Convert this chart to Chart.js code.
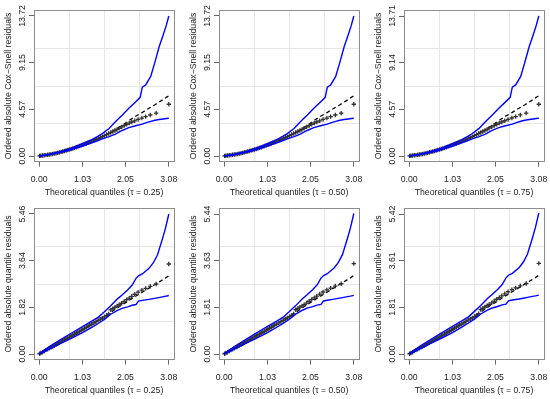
<!DOCTYPE html>
<html>
<head>
<meta charset="utf-8">
<script src="https://cdn.jsdelivr.net/npm/chart.js@4.4.1/dist/chart.umd.min.js"></script>
<style>
  html, body { margin: 0; padding: 0; background: #fff; }
  #wrap { position: relative; width: 550px; height: 399px; overflow: hidden; }
  #wrap canvas { position: absolute; }
</style>
</head>
<body>
<div id="wrap"></div>
<script>
// theoretical quantiles (same for all panels)
const theoX = [0.01, 0.04, 0.08, 0.12, 0.16, 0.2, 0.24, 0.28, 0.32, 0.36, 0.4, 0.44, 0.48, 0.52, 0.56, 0.6,
  0.64, 0.68, 0.72, 0.76, 0.8, 0.84, 0.88, 0.92, 0.96, 1.0, 1.04, 1.08, 1.12, 1.16, 1.2, 1.25, 1.3, 1.35,
  1.4, 1.45, 1.5, 1.55, 1.6, 1.65, 1.7, 1.75, 1.8, 1.85, 1.9, 1.96, 2.02, 2.08, 2.14, 2.2, 2.27, 2.35,
  2.44, 2.53, 2.64, 2.78, 3.08];

// ordered absolute Cox-Snell residuals
const csY = [0.01, 0.03, 0.05, 0.07, 0.09, 0.12, 0.14, 0.17, 0.2, 0.23, 0.27, 0.31, 0.36, 0.4, 0.44, 0.49,
  0.54, 0.59, 0.64, 0.69, 0.74, 0.8, 0.86, 0.92, 0.98, 1.04, 1.1, 1.17, 1.23, 1.3, 1.37, 1.46, 1.55, 1.63,
  1.72, 1.81, 1.9, 2.0, 2.1, 2.2, 2.3, 2.4, 2.5, 2.6, 2.72, 2.85, 2.98, 3.1, 3.22, 3.33, 3.45, 3.58,
  3.72, 3.86, 4.02, 4.2, 5.07];

// ordered absolute quantile residuals
const qY = [0.01, 0.04, 0.07, 0.11, 0.15, 0.18, 0.22, 0.26, 0.29, 0.33, 0.37, 0.4, 0.44, 0.48, 0.51, 0.55,
  0.59, 0.63, 0.66, 0.7, 0.74, 0.77, 0.81, 0.85, 0.88, 0.92, 0.96, 1.0, 1.04, 1.08, 1.12, 1.16, 1.21, 1.26,
  1.31, 1.36, 1.4, 1.45, 1.5, 1.56, 1.72, 1.77, 1.82, 1.87, 1.92, 1.98, 2.05, 2.12, 2.18, 2.25, 2.33, 2.41,
  2.49, 2.56, 2.64, 2.73, 3.51];

// simulated envelopes, Cox-Snell
const csEnvX = [0, 0.25, 0.5, 0.75, 1.03, 1.25, 1.4, 1.5, 1.66, 1.81, 1.97, 2.13, 2.29, 2.4, 2.45, 2.53, 2.65, 2.75, 2.85, 2.95, 3.02, 3.08];
const csUpper = [0, 0.17, 0.42, 0.75, 1.2, 1.6, 1.95, 2.2, 2.7, 3.36, 4.0, 4.67, 5.3, 5.75, 6.75, 6.96, 7.8, 9.2, 10.7, 11.9, 12.8, 13.72];
const csLower = [0, 0.13, 0.33, 0.6, 0.98, 1.3, 1.52, 1.67, 1.9, 2.15, 2.5, 2.78, 2.96, 3.07, 3.12, 3.25, 3.4, 3.5, 3.58, 3.63, 3.67, 3.7];
const csMedian = [0, 0.15, 0.38, 0.68, 1.08, 1.46, 1.72, 1.9, 2.22, 2.56, 2.98, 3.46, 3.9, 4.15, 4.27, 4.48, 4.78, 5.02, 5.28, 5.55, 5.75, 5.9];

// simulated envelopes, quantile
const qEnvX = [0, 0.25, 0.5, 0.75, 1.03, 1.25, 1.4, 1.55, 1.7, 1.86, 1.97, 2.1, 2.21, 2.3, 2.36, 2.45, 2.61, 2.71, 2.81, 2.93, 3.0, 3.08];
const qUpper = [0, 0.3, 0.55, 0.8, 1.07, 1.28, 1.43, 1.65, 1.88, 2.15, 2.3, 2.5, 2.69, 2.95, 3.05, 3.12, 3.34, 3.55, 3.86, 4.5, 4.9, 5.46];
const qLower = [0, 0.2, 0.4, 0.6, 0.83, 1.04, 1.19, 1.35, 1.55, 1.7, 1.78, 1.84, 1.9, 1.93, 2.06, 2.09, 2.13, 2.16, 2.19, 2.23, 2.25, 2.28];
const qMedian = [0, 0.23, 0.47, 0.7, 0.96, 1.17, 1.32, 1.46, 1.62, 1.8, 1.92, 2.05, 2.17, 2.26, 2.32, 2.41, 2.57, 2.67, 2.77, 2.89, 2.96, 3.05];

// axis ticks
const xTicks = [0, 1.03, 2.05, 3.08];
const csTicks = [[0, 4.57, 9.15, 13.72], [0, 4.57, 9.15, 13.72], [0, 4.57, 9.14, 13.71]];
const qTicks = [[0, 1.82, 3.64, 5.46], [0, 1.81, 3.63, 5.44], [0, 1.81, 3.61, 5.42]];
const taus = ['0.25', '0.50', '0.75'];

const FONT = { family: '"Liberation Sans", Arial, sans-serif', size: 8.7 };
const TXT = '#222';
const BOX = '#8c8c8c';
const TICKC = '#666';
const GRID = '#e6e6e6';
const BLUE = '#0000ff';

const pts = (xs, ys) => xs.map((x, i) => ({ x: x, y: ys[i] }));

// y tick labels drawn parallel to the axis, like R
const yLabels = {
  id: 'yLabels',
  afterDraw(chart) {
    const { ctx, chartArea } = chart;
    const y = chart.scales.y;
    ctx.save();
    ctx.fillStyle = TXT;
    ctx.font = FONT.size + 'px ' + FONT.family;
    ctx.textAlign = 'center';
    ctx.textBaseline = 'middle';
    y.ticks.forEach(t => {
      ctx.save();
      ctx.translate(chartArea.left - 11, y.getPixelForValue(t.value));
      ctx.rotate(-Math.PI / 2);
      ctx.fillText(t.value.toFixed(2), 0, 0);
      ctx.restore();
    });
    ctx.restore();
  }
};

function quarterGrid(s) {
  const step = (s.max - s.min) / 4;
  s.ticks = [1, 2, 3].map(k => ({ value: s.min + k * step }));
}

function makePanel(row, col) {
  const cv = document.createElement('canvas');
  cv.width = 180; cv.height = 200;
  cv.style.left = (col * 185) + 'px';
  cv.style.top = (row * 198) + 'px';
  document.getElementById('wrap').appendChild(cv);

  const yT = row === 0 ? csTicks[col] : qTicks[col];
  const yMax = yT[yT.length - 1];
  const xMax = xTicks[xTicks.length - 1];
  const envX = row === 0 ? csEnvX : qEnvX;
  const upper = row === 0 ? csUpper : qUpper;
  const lower = row === 0 ? csLower : qLower;
  const median = row === 0 ? csMedian : qMedian;
  const resY = row === 0 ? csY : qY;
  const yTitle = row === 0 ? 'Ordered absolute Cox\u2212Snell residuals' : 'Ordered absolute quantile residuals';

  new Chart(cv, {
    type: 'scatter',
    data: {
      datasets: [
        { data: pts(envX, upper), showLine: true, borderColor: BLUE, borderWidth: 1.4, pointRadius: 0, order: 0 },
        { data: pts(envX, lower), showLine: true, borderColor: BLUE, borderWidth: 1.4, pointRadius: 0, order: 0 },
        { data: pts(theoX, resY), pointStyle: 'cross', pointRadius: 2.2, borderWidth: 1.3, borderColor: '#333', order: 1 },
        { data: pts(envX, median), showLine: true, borderColor: '#000', borderWidth: 1.3, borderDash: [4, 3], pointRadius: 0, order: 2 }
      ]
    },
    options: {
      responsive: false,
      animation: false,
      devicePixelRatio: 1,
      layout: { padding: { top: 10.4, right: 6, left: 0, bottom: 0 } },
      plugins: { legend: { display: false }, tooltip: { enabled: false } },
      scales: {
        x: {
          type: 'linear', min: -0.04 * xMax, max: 1.04 * xMax,
          afterBuildTicks: s => { s.ticks = xTicks.map(v => ({ value: v })); },
          afterFit: s => { s.height = 38.4; s.paddingLeft = 0; s.paddingRight = 0; },
          ticks: { callback: v => v.toFixed(2), padding: 7.5, color: TXT, font: FONT, maxRotation: 0, autoSkip: false },
          grid: { drawOnChartArea: false, tickLength: 5, tickColor: TICKC },
          border: { display: true, color: BOX },
          title: { display: true, text: 'Theoretical quantiles (\u03c4 = ' + taus[col] + ')', color: TXT, font: FONT, padding: { top: 0, bottom: 2.5 } }
        },
        y: {
          type: 'linear', min: -0.04 * yMax, max: 1.04 * yMax,
          afterBuildTicks: s => { s.ticks = yT.map(v => ({ value: v })); },
          afterFit: s => { s.width = 34; s.paddingTop = 0; s.paddingBottom = 0; },
          ticks: { display: false },
          grid: { drawOnChartArea: false, tickLength: 5, tickColor: TICKC },
          border: { display: true, color: BOX },
          title: { display: true, text: yTitle, color: TXT, font: FONT, padding: { top: 3.8, bottom: 0 } }
        },
        gx: {
          type: 'linear', position: 'top', min: -0.04 * xMax, max: 1.04 * xMax,
          afterBuildTicks: quarterGrid,
          afterFit: s => { s.height = 0; },
          ticks: { display: false },
          grid: { color: GRID, drawTicks: false },
          border: { display: true, color: BOX }
        },
        gy: {
          type: 'linear', position: 'right', min: -0.04 * yMax, max: 1.04 * yMax,
          afterBuildTicks: quarterGrid,
          afterFit: s => { s.width = 0; },
          ticks: { display: false },
          grid: { color: GRID, drawTicks: false },
          border: { display: true, color: BOX }
        }
      }
    },
    plugins: [yLabels]
  });
}

for (let r = 0; r < 2; r++) {
  for (let c = 0; c < 3; c++) makePanel(r, c);
}
</script>
</body>
</html>
